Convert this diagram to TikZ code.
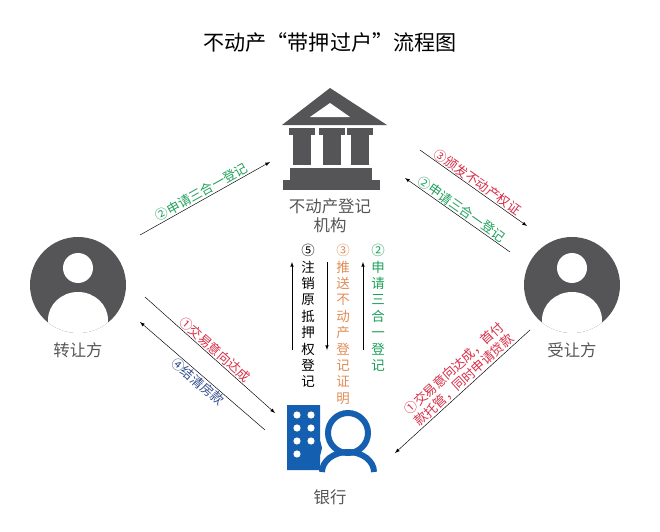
\documentclass[tikz,border=0pt]{standalone}
\usepackage{fontspec}
\setmainfont{Noto Sans CJK SC}
\usepackage{tikz}
\definecolor{icongray}{RGB}{85,85,88}
\definecolor{bankblue}{RGB}{20,95,175}
\definecolor{lblred}{RGB}{215,45,70}
\definecolor{lblgreen}{RGB}{30,160,90}
\definecolor{lblorange}{RGB}{225,140,85}
\definecolor{lblblue}{RGB}{50,75,140}
\tikzset{
  flow/.style={-latex,thin},
  lbl/.style={font=\fontsize{11}{13}\selectfont,inner sep=1pt},
  who/.style={font=\fontsize{14}{16}\selectfont,text=icongray},
  vlbl/.style={font=\fontsize{11.5}{14}\selectfont,align=center,anchor=north,inner sep=0pt}
}
\begin{document}
\begin{tikzpicture}[x=0.03cm,y=-0.03cm]
\useasboundingbox (0,0) rectangle (660,532);

\node [font=\fontsize{18}{20}\selectfont] (title) at (330,42) {不动产“带押过户”流程图};

% registry building
\fill [icongray] (330,88) -- (387,125) -- (282,125) -- cycle;
\fill [white] (330,103) -- (350,117) -- (310,117) -- cycle;
\foreach \cx in {302,332,360}{
  \fill [icongray] (\cx-13,128) rectangle (\cx+13,135);
  \fill [icongray] (\cx-9,135) rectangle (\cx+9,165);
}
\fill [icongray] (290,168) rectangle (372,180);
\fill [icongray] (283,180) rectangle (380,190);
\node [who,align=center] (reg) at (330,216) {不动产登记\\机构};

% seller and buyer
\foreach \px/\nm/\txt in {78/sell/转让方,572/buy/受让方}{
  \fill [icongray] (\px,285) circle (48);
  \begin{scope}
    \clip (\px,285) circle (48);
    \fill [white] (\px,268) circle (15);
    \fill [white] (\px-30,320) arc (180:360:30 and 28) -- cycle;
    \fill [white] (\px-30,320) rectangle (\px+30,340);
  \end{scope}
  \node [who] (\nm) at (\px,350) {\txt};
}

% bank
\fill [bankblue] (287,405) -- (320,405) -- (320,440) -- (322,448) -- (320,456) -- (320,470) -- (287,470) -- cycle;
\foreach \dx/\dy in {297/415,311/415,297/428,311/428,297/441,311/441,297/454}
  \fill [white] (\dx,\dy) circle (3.6);
\draw [bankblue,line width=1.8mm] (348,433) circle (20);
\draw [bankblue,line width=1.8mm] (322,472) arc (180:360:26 and 20);
\node [who] (bank) at (330,497) {银行};

% connectors
\coordinate (a1) at (140,235); \coordinate (a2) at (270,162);
\draw [flow] (a1) -- node [lbl,sloped,above,text=lblgreen] {②申请三合一登记} (a2);

\coordinate (b1) at (420,150); \coordinate (b2) at (527,226);
\draw [flow] (b1) -- node [lbl,sloped,above,text=lblred] {③颁发不动产权证} (b2);
\coordinate (c1) at (510,252); \coordinate (c2) at (405,178);
\draw [flow] (c1) -- node [lbl,sloped,above,text=lblgreen] {②申请三合一登记} (c2);

\coordinate (d1) at (145,297); \coordinate (d2) at (275,413);
\draw [flow] (d1) -- node [lbl,sloped,above,text=lblred] {①交易意向达成} (d2);
\coordinate (e1) at (265,430); \coordinate (e2) at (140,322);
\draw [flow] (e1) -- node [lbl,sloped,below,text=lblblue] {④结清房款} (e2);

\coordinate (f1) at (530,330); \coordinate (f2) at (395,453);
\draw [flow] (f1) -- node [lbl,sloped,above,align=center,text=lblred,pos=0.45] {①交易意向达成，首付\\款托管，同时申请贷款} (f2);

\coordinate (g1) at (292,350); \coordinate (g2) at (292,262);
\draw [flow] (g1) -- (g2);
\coordinate (h1) at (327,262); \coordinate (h2) at (327,350);
\draw [flow] (h1) -- (h2);
\coordinate (i1) at (363,350); \coordinate (i2) at (363,262);
\draw [flow] (i1) -- (i2);
\node [vlbl] (v5) at (308,244) {⑤\\注\\销\\原\\抵\\押\\权\\登\\记};
\node [vlbl,text=lblorange] (v3) at (343,244) {③\\推\\送\\不\\动\\产\\登\\记\\证\\明};
\node [vlbl,text=lblgreen] (v2) at (378,244) {②\\申\\请\\三\\合\\一\\登\\记};
\end{tikzpicture}
\end{document}
